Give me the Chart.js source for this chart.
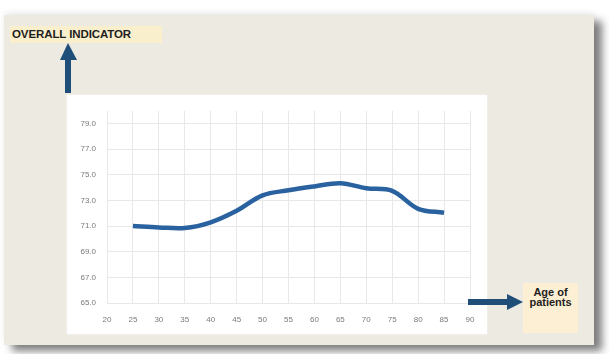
<!DOCTYPE html>
<html>
<head>
<meta charset="utf-8">
<script src="https://cdn.jsdelivr.net/npm/chart.js@4"></script>
<style>
  body { margin: 0; width: 609px; height: 354px; background: #fff; position: relative; overflow: hidden; font-family: "Liberation Sans", Arial, sans-serif; }
  #panel { position: absolute; left: 4px; top: 15px; width: 590px; height: 330px; background: #edeae2; box-shadow: 8px 6px 8px #7e7e7e, 0 -3px 6px #f0f0f0; }
  #chartBox { position: absolute; left: 67px; top: 95px; width: 420px; height: 239px; background: #fff; box-shadow: 0 0 2px #f4f4f0; }
  #yTitle { position: absolute; left: 10px; top: 26px; width: 152px; height: 17px; background: #f9efcd; font-size: 11.5px; font-weight: bold; color: #1e1e1e; line-height: 17px; padding-left: 2px; box-sizing: border-box; white-space: nowrap; letter-spacing: -0.1px; }
  #xTitle { position: absolute; left: 523px; top: 283px; width: 55px; height: 50px; background: #fdefd4; font-size: 11px; font-weight: bold; color: #1e1e1e; line-height: 10px; text-align: center; padding-top: 4px; box-sizing: border-box; }
  #arrows { position: absolute; left: 0; top: 0; }
</style>
</head>
<body>
<div id="panel"></div>
<div id="chartBox"><canvas id="chart" width="420" height="239"></canvas></div>
<div id="yTitle">OVERALL INDICATOR</div>
<div id="xTitle">Age of<br>patients</div>
<svg id="arrows" width="609" height="354">
  <rect x="65" y="58" width="6" height="35" fill="#1f4e79"/>
  <polygon points="60,60 77,60 68,43" fill="#1f4e79"/>
  <rect x="468" y="299" width="40" height="6" fill="#1f4e79"/>
  <polygon points="507,294 507,310 523,302" fill="#1f4e79"/>
</svg>
<script>
// patient age (x) and overall indicator (y)
const ages = [25, 30, 35, 40, 45, 50, 55, 60, 65, 70, 75, 80, 85];
const indicator = [71.0, 70.9, 70.85, 71.3, 72.2, 73.4, 73.8, 74.1, 74.35, 73.95, 73.75, 72.35, 72.05];
const yTicks = [65, 67, 69, 71, 73, 75, 77, 79];

const tickFont = { family: '"Liberation Sans", Arial, sans-serif', size: 8 };

new Chart(document.getElementById('chart').getContext('2d'), {
  type: 'line',
  data: {
    datasets: [{
      data: ages.map((a, i) => ({ x: a, y: indicator[i] })),
      borderColor: '#2a62a0',
      borderWidth: 4.5,
      pointRadius: 0,
      tension: 0.35,
      fill: false
    }]
  },
  options: {
    responsive: false,
    animation: false,
    layout: { padding: { top: 11, right: 17, left: 0, bottom: 0 } },
    plugins: { legend: { display: false }, tooltip: { enabled: false } },
    scales: {
      x: {
        type: 'linear',
        min: 20,
        max: 90,
        ticks: { stepSize: 5, color: '#7a7a7a', font: tickFont, padding: 12 },
        grid: { color: '#e8e8e8', drawTicks: false },
        border: { display: false },
        afterFit: s => { s.height = 31; }
      },
      y: {
        min: 65,
        max: 80,
        afterBuildTicks: s => { s.ticks = yTicks.map(v => ({ value: v })); },
        ticks: { color: '#7a7a7a', font: tickFont, padding: 11, callback: v => v.toFixed(1) },
        grid: { color: '#e8e8e8', drawTicks: false },
        border: { display: false },
        afterFit: s => { s.width = 40; }
      }
    }
  }
});
</script>
</body>
</html>
